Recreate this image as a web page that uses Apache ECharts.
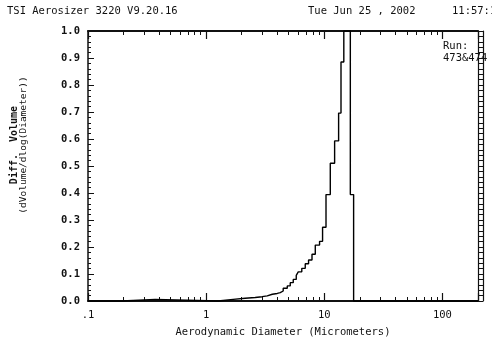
<!DOCTYPE html>
<html lang="en">

<head>
    <meta charset="UTF-8">
    <title>TSI Aerosizer 3220</title>
    <script src="https://cdn.jsdelivr.net/npm/echarts@6/dist/echarts.min.js"></script>
    <style>
        html, body {
            margin: 0;
            padding: 0;
            background: #fff;
        }
        #mChart {
            width: 492px;
            height: 343px;
        }
    </style>
</head>

<body>
    <div id="mChart"></div>

    <script type="text/javascript">
        // left edge of each size bin (micrometers) and its diff. volume
        var binStart = [0.1, 0.194, 0.370, 1.264, 1.693, 2.14, 2.60, 2.98, 3.29, 3.63,
            4.00, 4.24, 4.49, 4.86, 5.15, 5.46, 5.79, 6.02, 6.45, 6.90,
            7.36, 7.87, 8.39, 9.12, 9.67, 10.34, 11.24, 12.23, 13.22, 13.85,
            14.63, 16.61, 17.71, 200]
        var diffVolume = [0, 0.006, 0, 0.006, 0.010, 0.013, 0.016, 0.019, 0.025, 0.028,
            0.031, 0.037, 0.047, 0.056, 0.068, 0.080, 0.095, 0.108, 0.121, 0.138,
            0.152, 0.173, 0.207, 0.221, 0.273, 0.394, 0.510, 0.593, 0.696, 0.885,
            1.0, 0.394, 0, 0]

        // axis ticks / labels
        var xMajor = [0.1, 1, 10, 100]
        var xMajorLabels = ['.1', '1', '10', '100']
        var xMinor = [0.2, 0.3, 0.4, 0.5, 0.6, 0.7, 0.8, 0.9,
            2, 3, 4, 5, 6, 7, 8, 9,
            20, 30, 40, 50, 60, 70, 80, 90]

        var headerLeft = 'TSI Aerosizer 3220 V9.20.16'
        var headerDate = 'Tue Jun 25 , 2002'
        var headerTime = '11:57:1'
        var runLabel = ['Run:', '473&474']

        var mono = 'DejaVu Sans Mono'
        var ink = '#111'

        var mChart = echarts.init(document.getElementById('mChart'), null, { renderer: 'canvas' })

        var data = binStart.map((d, i) => [d, diffVolume[i]])
        var logMin = Math.log10(0.1), logMax = Math.log10(200)

        function majorAxis(pos, withLabels) {
            return {
                type: 'log', logBase: 10, min: 0.1, max: 200, position: pos,
                axisLine: { onZero: false, lineStyle: { color: ink, width: 2 } },
                axisTick: { inside: true, length: 8, lineStyle: { color: ink, width: 1.2 } },
                axisLabel: {
                    show: withLabels, margin: 9, color: ink, fontFamily: mono, fontSize: 10.5,
                    formatter: v => {
                        for (var i = 0; i < xMajor.length; i++) {
                            if (Math.abs(v - xMajor[i]) < xMajor[i] * 1e-6) return xMajorLabels[i]
                        }
                        return ''
                    }
                },
                splitLine: { show: false },
                name: withLabels ? 'Aerodynamic Diameter (Micrometers)' : '',
                nameLocation: 'middle', nameGap: 26,
                nameTextStyle: { color: ink, fontFamily: mono, fontSize: 10.5 }
            }
        }

        function minorAxis(pos) {
            return {
                type: 'value', min: logMin, max: logMax, position: pos,
                axisLine: { show: false, onZero: false },
                axisTick: { inside: true, length: 4, customValues: xMinor.map(v => Math.log10(v)),
                    lineStyle: { color: ink, width: 1 } },
                axisLabel: { show: false },
                splitLine: { show: false }
            }
        }

        mChart.setOption({
            animation: false,
            backgroundColor: '#fff',
            grid: { left: 88, right: 14, top: 31, bottom: 36 },
            xAxis: [majorAxis('bottom', true), minorAxis('bottom'), majorAxis('top', false), minorAxis('top')],
            yAxis: [{
                type: 'value', min: 0, max: 1, interval: 0.1, position: 'left',
                axisLine: { show: true, onZero: false, lineStyle: { color: ink, width: 1.5 } },
                axisTick: { inside: true, length: 6, lineStyle: { color: ink } },
                minorTick: { show: true, splitNumber: 5, length: 3, lineStyle: { color: ink } },
                axisLabel: { color: ink, fontFamily: mono, fontSize: 10.5, fontWeight: 'bold', margin: 8,
                    formatter: v => v.toFixed(1) },
                splitLine: { show: false }
            }, {
                type: 'value', min: 0, max: 1, interval: 0.1, position: 'right',
                axisLine: { show: true, onZero: false, lineStyle: { color: ink, width: 1.2 } },
                axisTick: { show: true, length: 5, lineStyle: { color: ink } },
                minorTick: { show: true, splitNumber: 5, length: 5, lineStyle: { color: ink } },
                axisLabel: { show: false },
                splitLine: { show: false }
            }, {
                type: 'value', min: 0, max: 1, position: 'right', offset: 5,
                axisLine: { show: true, onZero: false, lineStyle: { color: ink, width: 1.2 } },
                axisTick: { show: false },
                axisLabel: { show: false },
                splitLine: { show: false }
            }],
            graphic: [{
                type: 'text', left: 7, top: 6,
                style: { text: headerLeft, fill: ink, font: '10.5px "DejaVu Sans Mono"' }
            }, {
                type: 'text', left: 308, top: 6,
                style: { text: headerDate, fill: ink, font: '10.5px "DejaVu Sans Mono"' }
            }, {
                type: 'text', left: 452, top: 6,
                style: { text: headerTime, fill: ink, font: '10.5px "DejaVu Sans Mono"' }
            }, {
                type: 'text', left: 443, top: 40,
                style: { text: runLabel.join('\n'), fill: ink, lineHeight: 12, font: '10.5px "DejaVu Sans Mono"' }
            }, {
                type: 'text', x: 19, y: 145, rotation: Math.PI / 2,
                style: {
                    text: '{a|Diff.  Volume}\n{b|(dVolume/dlog(Diameter))}',
                    align: 'center', verticalAlign: 'middle',
                    rich: {
                        a: { fontFamily: mono, fontSize: 10, fontWeight: 'bold', fill: ink, lineHeight: 9 },
                        b: { fontFamily: mono, fontSize: 9.5, fill: ink, lineHeight: 9 }
                    }
                }
            }],
            series: [{
                type: 'line',
                xAxisIndex: 0,
                yAxisIndex: 0,
                step: 'end',
                data: data,
                showSymbol: false,
                clip: false,
                lineStyle: { color: '#000', width: 1.4 }
            }]
        })
    </script>
</body>

</html>
